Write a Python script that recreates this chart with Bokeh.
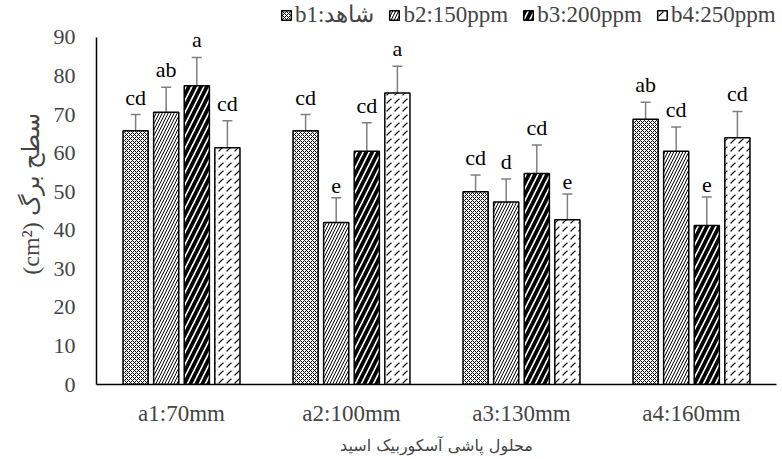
from bokeh.plotting import figure
from bokeh.models import (ColumnDataSource, FactorRange, Whisker, TeeHead, Legend, LegendItem)
from bokeh.transform import dodge
from bokeh.core.properties import value
from bokeh.embed import file_html
from bokeh.resources import INLINE

categories = ["a1:70mm", "a2:100mm", "a3:130mm", "a4:160mm"]
series_names = ["b1:شاهد", "b2:150ppm", "b3:200ppm", "b4:250ppm"]

b1 = [65.8, 65.8, 50.0, 68.8]
b2 = [70.6, 42.0, 47.3, 60.5]
b3 = [77.5, 60.5, 54.7, 41.2]
b4 = [61.4, 75.6, 42.7, 64.0]

err1 = [4.2, 4.2, 4.3, 4.4]
err2 = [6.5, 6.4, 6.0, 6.3]
err3 = [7.3, 7.4, 7.4, 7.4]
err4 = [7.0, 6.9, 6.7, 6.8]

lab1 = ["cd", "cd", "cd", "ab"]
lab2 = ["ab", "e", "d", "cd"]
lab3 = ["a", "cd", "cd", "e"]
lab4 = ["cd", "a", "e", "cd"]

y_ticks = [0, 10, 20, 30, 40, 50, 60, 70, 80, 90]
y_axis_max = 90
y_view_max = 98.8  # extra head-room above the axis so the legend can sit there

SERIF = "Liberation Serif"

p = figure(x_range=FactorRange(*categories, range_padding=0), y_range=(0, y_view_max),
           width=780, height=457, output_backend="svg", toolbar_location=None,
           min_border_left=96, min_border_right=4, min_border_top=3, min_border_bottom=73)
p.outline_line_color = None
p.xgrid.grid_line_color = None
p.ygrid.grid_line_color = None

offsets = [-0.27, -0.09, 0.09, 0.27]
bw = 0.148
styles = [
    dict(hatch_pattern="diagonal_cross", hatch_scale=4, hatch_weight=1.0),
    dict(hatch_pattern="right_diagonal_line", hatch_scale=6, hatch_weight=1.0),
    dict(hatch_pattern="right_diagonal_line", hatch_scale=12, hatch_weight=3.8),
    dict(hatch_pattern="right_diagonal_dash", hatch_scale=8, hatch_weight=1.2),
]

vals = [b1, b2, b3, b4]
errs = [err1, err2, err3, err4]
labs = [lab1, lab2, lab3, lab4]
renderers = []
for i in range(4):
    src = ColumnDataSource(dict(
        cat=categories, val=vals[i],
        lo=[v - e for v, e in zip(vals[i], errs[i])],
        hi=[v + e for v, e in zip(vals[i], errs[i])],
        lab=labs[i]))
    r = p.vbar(x=dodge("cat", offsets[i], range=p.x_range), top="val", width=bw, source=src,
               fill_color="white", line_color="black", line_width=1.5,
               hatch_color="black", **styles[i])
    renderers.append(r)
    w = Whisker(base=dodge("cat", offsets[i], range=p.x_range), upper="hi", lower="lo", source=src,
                line_color="#7f7f7f", line_width=1.5,
                upper_head=TeeHead(size=10, line_color="#7f7f7f", line_width=1.5),
                lower_head=TeeHead(size=10, line_color="#7f7f7f", line_width=1.5))
    p.add_layout(w)
    p.text(x=dodge("cat", offsets[i], range=p.x_range), y="hi", text="lab", source=src,
           text_font=value(SERIF), text_font_size="22px", text_align="center",
           text_baseline="bottom", y_offset=-5, text_color="black")

legend = Legend(items=[LegendItem(label=series_names[i], renderers=[renderers[i]]) for i in range(4)],
                orientation="horizontal", location=(184, 356), padding=0, margin=0, spacing=14,
                label_standoff=3, glyph_width=12, glyph_height=12,
                label_text_font=SERIF, label_text_font_size="23px",
                border_line_color=None, background_fill_alpha=0)
p.add_layout(legend, "center")

p.yaxis.ticker = y_ticks
p.yaxis.bounds = (0, y_axis_max)
p.yaxis.major_tick_line_color = None
p.yaxis.minor_tick_line_color = None
p.yaxis.major_label_standoff = 15
p.yaxis.axis_line_color = "black"
p.yaxis.axis_line_width = 1.5
p.yaxis.major_label_text_font = SERIF
p.yaxis.major_label_text_font_size = "22px"
p.yaxis.axis_label = "(cm²) سطح برگ"
p.yaxis.axis_label_text_font = SERIF
p.yaxis.axis_label_text_font_size = "24px"
p.yaxis.axis_label_text_font_style = "normal"
p.yaxis.axis_label_standoff = 7

p.xaxis.major_tick_line_color = None
p.xaxis.minor_tick_line_color = None
p.xaxis.major_label_standoff = 10
p.xaxis.axis_line_color = "black"
p.xaxis.axis_line_width = 1.5
p.xaxis.major_label_text_font = SERIF
p.xaxis.major_label_text_font_size = "23px"
p.xaxis.axis_label = "محلول پاشی آسکوربیک اسید"
p.xaxis.axis_label_text_font = "DejaVu Sans"
p.xaxis.axis_label_text_font_size = "16px"
p.xaxis.axis_label_text_font_style = "normal"
p.xaxis.axis_label_standoff = 7

open("out.html", "w").write(file_html(p, INLINE))
